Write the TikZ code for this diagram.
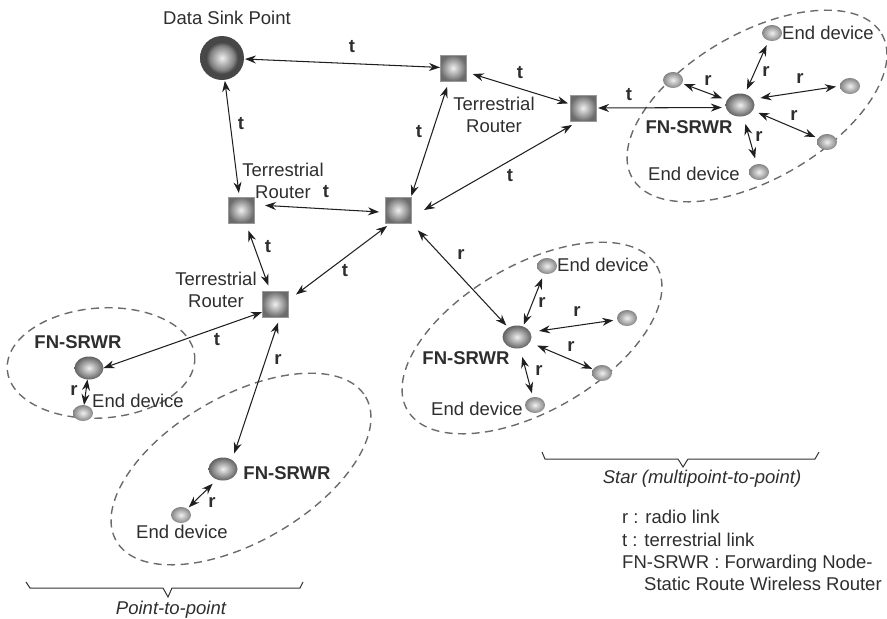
\documentclass[tikz,border=0pt]{standalone}
\usepackage{fontspec}
\setmainfont{Liberation Sans}
\usetikzlibrary{arrows.meta,shapes.geometric}

\pgfdeclareradialshading{sinkball}{\pgfpointorigin}{color(0bp)=(black!6); color(14bp)=(black!50); color(18bp)=(black!72); color(50bp)=(black!72)}

\tikzset{
  sink/.style={circle, minimum size=44pt, inner sep=0pt, outer sep=0pt, shading=sinkball},
  router/.style={rectangle, minimum size=26pt, inner sep=0pt, outer sep=0pt, draw=black!40, inner color=black!6, outer color=black!58},
  fnode/.style={ellipse, minimum width=29pt, minimum height=23pt, inner sep=0pt, outer sep=0pt, inner color=black!6, outer color=black!62},
  enddev/.style={ellipse, minimum width=20pt, minimum height=16pt, inner sep=0pt, outer sep=0pt, inner color=black!6, outer color=black!48},
  link/.style={{Stealth[length=11pt,width=8pt]}-{Stealth[length=11pt,width=8pt]}, line width=1.05pt, black!88},
  zone/.style={dash pattern=on 8pt off 5.5pt, line width=1.4pt, black!58},
  txt/.style={font=\fontsize{18.5}{22.4}\selectfont, text=black!82, inner sep=0pt},
  bld/.style={txt, font=\fontsize{18.5}{22.4}\selectfont\bfseries},
  ital/.style={txt, font=\fontsize{18.5}{22.4}\selectfont\itshape},
  brace/.style={line width=1pt, black!80}
}

\begin{document}
\begin{tikzpicture}[x=1pt, y=-1pt]
\useasboundingbox (0,0) rectangle (887,619);

\coordinate (zoneA) at (757,106);
\coordinate (zoneB) at (532,338);
\coordinate (zoneC) at (101,363);
\coordinate (zoneD) at (241,469);
\draw[zone, rotate around={30:(zoneA)}] (zoneA) ellipse (144 and 73);
\draw[zone, rotate around={30:(zoneB)}] (zoneB) ellipse (144 and 73);
\draw[zone, rotate around={4:(zoneC)}] (zoneC) ellipse (94 and 55);
\draw[zone, rotate around={30:(zoneD)}] (zoneD) ellipse (144 and 73);

\node[sink] (sink) at (222,58) {};
\node[router] (ra) at (453,68) {};
\node[router] (rb) at (583,108) {};
\node[router] (rc) at (241,210) {};
\node[router] (rd) at (398,210) {};
\node[router] (re) at (275,304) {};

\node[fnode] (fa) at (740,105) {};
\node[fnode] (fb) at (517,337) {};
\node[fnode] (fc) at (89,368) {};
\node[fnode] (fd) at (223,469) {};

\foreach \n/\x/\y in {aa/772/33, ab/673/80, ac/850/86, ad/827/142, ae/759/172,
                      ba/547/266, bb/627/318, bc/602/373, bd/535/405,
                      ca/83/413, da/181/515}
    \node[enddev] (\n) at (\x,\y) {};

\foreach \p/\q/\s/\e in {sink/ra/1/0, sink/rc/1/4, ra.253/rd.north east/6/1, ra/rb/7/2,
                         rb.253/rd.-30/8/15, rb.east/fa.190/2/4, rc.22/rd.190/11/6,
                         rc/re/8/6, rd.242/re.15/5/10, rd.south east/fb/10/3,
                         re.212/fc.east/0/0, re.-69/fd.45/6/7,
                         ab/fa/2/5, aa/fa/5/5, fa.25/ac.west/8/4, fa/ad/6/3, fa/ae/8/6,
                         fb.60/ba/2/5, fb.20/bb.190/9/4, fb/bc/8/1, fb/bd/9/4,
                         fc/ca/0/0, fd.240/da/6/2}
    \draw[link, shorten <=\s pt, shorten >=\e pt] (\p) -- (\q);

\node[txt] (sinktxt) at (227,18) {Data Sink Point};
\node[txt, align=center] (rtxta) at (494,115) {Terrestrial\\Router};
\node[txt, align=center] (rtxtc) at (283,181) {Terrestrial\\Router};
\node[txt, align=center] (rtxte) at (216,290) {Terrestrial\\Router};

\foreach \n/\x/\y in {fa/689/127, fb/466/358, fc/78/342, fd/287/473}
    \node[bld] (\n txt) at (\x,\y) {FN-SRWR};
\foreach \n/\x/\y in {aa/828/33, ae/694/174, ba/603/265, bd/477/409, ca/138/401, da/182/532}
    \node[txt] (\n txt) at (\x,\y) {End device};

\foreach \i/\x/\y in {1/352/47, 2/241/124, 3/419/132, 4/520/73, 5/629/95, 6/510/176,
                      7/326/192, 8/268/247, 9/345/271, 10/217/340}
    \node[bld] (t\i) at (\x,\y) {t};
\foreach \i/\x/\y in {1/708/81, 2/766/72, 3/800/79, 4/794/116, 5/759/137,
                      6/461/255, 7/542/303, 8/577/312, 9/571/347, 10/539/371,
                      11/278/360, 12/74/391, 13/212/503}
    \node[bld] (r\i) at (\x,\y) {r};

\draw[brace] (26,582) -- (30,588) -- (163,588) -- (168,597) -- (172,588) -- (300,588) -- (303,582);
\draw[brace] (542,452) -- (545,459) -- (678,459) -- (683,467) -- (688,459) -- (815,459) -- (819,452);

\node[ital] (ptp) at (171,610) {Point-to-point};
\node[ital] (star) at (702,479) {Star (multipoint-to-point)};

\node[txt, anchor=north west, align=left] (legend) at (622,510)
    {r : radio link\\t : terrestrial link\\FN-SRWR : Forwarding Node-\\\hspace*{22pt}Static Route Wireless Router};

\end{tikzpicture}
\end{document}
